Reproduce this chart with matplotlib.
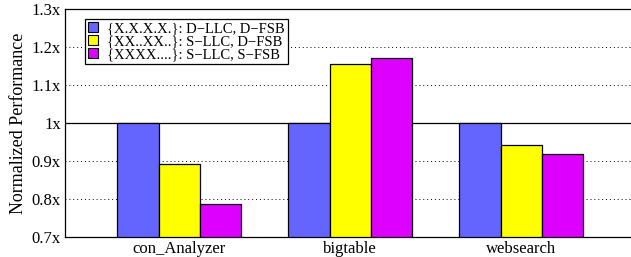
import matplotlib
matplotlib.use("Agg")
import matplotlib.pyplot as plt
from matplotlib.patches import Patch
import numpy as np

plt.rcParams['font.family'] = ['Liberation Serif', 'DejaVu Serif']

# 数据
categories = ["con_Analyzer", "bigtable", "websearch"]
series_labels = ["{X.X.X.X.}: D\u2212LLC, D\u2212FSB",
                 "{XX..XX..}: S\u2212LLC, D\u2212FSB",
                 "{XXXX....}: S\u2212LLC, S\u2212FSB"]
d_llc_d_fsb = [1.0, 1.0, 1.0]
s_llc_d_fsb = [0.893, 1.155, 0.943]
s_llc_s_fsb = [0.787, 1.172, 0.919]
y_ticks = [0.7, 0.8, 0.9, 1.0, 1.1, 1.2, 1.3]
y_tick_labels = ["0.7x", "0.8x", "0.9x", "1x", "1.1x", "1.2x", "1.3x"]

colors = ["#6464ff", "#ffff00", "#dd00ff"]

fig = plt.figure(figsize=(6.31, 2.57), dpi=100)
ax = fig.add_axes([65 / 631, 20 / 257, 566 / 631, 228 / 257])

x = np.arange(len(categories))
w = 0.24
for i, vals in enumerate([d_llc_d_fsb, s_llc_d_fsb, s_llc_s_fsb]):
    ax.bar(x + (i - 1) * w, np.array(vals) - 0.7, width=w, bottom=0.7,
           color=colors[i], edgecolor="black", linewidth=0.9, zorder=3)

ax.set_xlim(-0.667, 2.643)
ax.set_ylim(0.7, 1.3)
ax.set_yticks(y_ticks)
ax.set_yticklabels(y_tick_labels, fontsize=12)
ax.set_xticks(x)
ax.set_xticklabels(categories, fontsize=12)
ax.tick_params(length=0, pad=3)
ax.set_ylabel("Normalized Performance", fontsize=13, labelpad=3)

for t in y_ticks[1:-1]:
    if t == 1.0:
        ax.axhline(t, color="black", linewidth=0.9, zorder=1)
    else:
        ax.axhline(t, color="black", linewidth=0.7, linestyle=(0, (1, 3)), zorder=1)

ax.spines['right'].set_visible(False)
for s in ['left', 'top', 'bottom']:
    ax.spines[s].set_linewidth(0.9)

handles = [Patch(facecolor=c, edgecolor="black", linewidth=0.8) for c in colors]
leg = ax.legend(handles, series_labels, loc="upper left",
                bbox_to_anchor=(20 / 566, 1 - 10 / 228), fontsize=10.5,
                handlelength=0.7, handleheight=0.7, handletextpad=0.6,
                labelspacing=-0.02, borderpad=0.2, borderaxespad=0,
                fancybox=False, framealpha=1, edgecolor="black")
leg.get_frame().set_linewidth(0.9)
leg.set_zorder(5)

fig.savefig("out.png", dpi=100)
